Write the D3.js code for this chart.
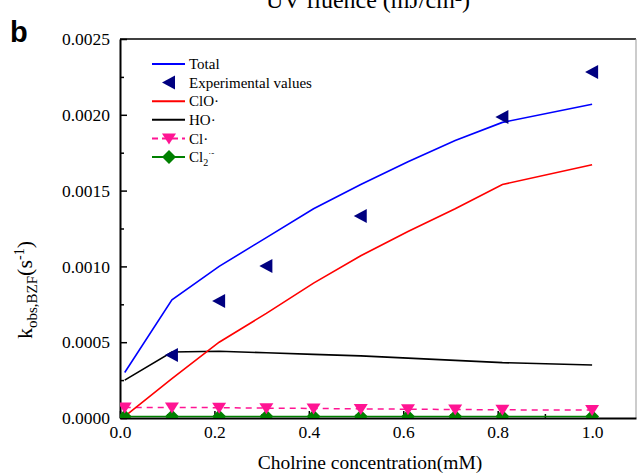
<!DOCTYPE html>
<html>
  <head>
    <script src="https://d3js.org/d3.v7.min.js" charset="utf-8"></script>
    <meta charset="UTF-8">
    <title>k_obs BZF vs chlorine</title>
    <style>
      body { margin: 0; background: #fff; }
      text { font-family: "Liberation Serif", "Times New Roman", serif; fill: #000; }
    </style>
  </head>
  <body>
    <svg class="chart"></svg>
    <script type="text/javascript">

      var width = 638,
          height = 473,
          padLeft = 120, padRight = 636, padTop = 39, padBottom = 418;

      var conc = [0.01, 0.11, 0.21, 0.31, 0.41, 0.51, 0.61, 0.71, 0.81, 1.0];
      var total = [0.0003, 0.00078, 0.001, 0.00119, 0.00138, 0.00154, 0.00169, 0.00183, 0.00195, 0.00207];
      var clo = [0.00001, 0.00026, 0.0005, 0.00069, 0.00089, 0.00107, 0.00123, 0.00138, 0.00154, 0.00167];
      var ho = [0.00025, 0.000435, 0.00044, 0.00043, 0.00042, 0.00041, 0.000395, 0.00038, 0.000365, 0.00035];
      var cl = [0.00007, 0.00007, 0.000068, 0.000065, 0.000063, 0.00006, 0.000058, 0.000056, 0.000054, 0.000052];
      var cl2 = [0.00001, 0.00001, 0.00001, 0.00001, 0.00001, 0.00001, 0.00001, 0.00001, 0.00001, 0.00001];
      var expX = [0.11, 0.21, 0.31, 0.51, 0.81, 1.0];
      var expY = [0.000416, 0.000772, 0.001003, 0.001333, 0.001986, 0.002282];

      var xTicks = [0, 0.2, 0.4, 0.6, 0.8, 1.0];
      var yTicks = [0, 0.0005, 0.001, 0.0015, 0.002, 0.0025];

      var x = d3.scaleLinear().domain([0, 1.093]).range([padLeft, padRight]);
      var y = d3.scaleLinear().domain([0, 0.0025]).range([padBottom, padTop]);

      var chart = d3.select(".chart")
          .attr("width", width)
          .attr("height", height);

      chart.append("clipPath").attr("id", "plot")
        .append("rect")
          .attr("x", padLeft).attr("y", padTop)
          .attr("width", padRight - padLeft).attr("height", padBottom - padTop);

      // frame top / right
      chart.append("line")
          .attr("x1", padLeft).attr("x2", padRight).attr("y1", padTop).attr("y2", padTop)
          .attr("stroke", "#000").attr("stroke-width", 1.5);
      chart.append("line")
          .attr("x1", padRight).attr("x2", padRight).attr("y1", padTop).attr("y2", padBottom)
          .attr("stroke", "#999").attr("stroke-width", 1);

      // axes
      var yAxis = chart.append("g")
          .attr("transform", "translate(" + padLeft + ",0)")
          .call(d3.axisLeft(y).tickValues(yTicks).tickSizeInner(-7).tickSizeOuter(0)
                .tickPadding(10).tickFormat(d3.format(".4f")));
      chart.append("g")
          .attr("transform", "translate(" + padLeft + ",0)")
          .call(d3.axisLeft(y).tickValues([0.00025, 0.00075, 0.00125, 0.00175, 0.00225])
                .tickSizeInner(-4).tickSizeOuter(0).tickFormat(""))
          .select(".domain").remove();

      var xAxis = chart.append("g")
          .attr("transform", "translate(0," + padBottom + ")")
          .call(d3.axisBottom(x).tickValues(xTicks).tickSizeInner(-7).tickSizeOuter(0)
                .tickPadding(8).tickFormat(d3.format(".1f")));
      chart.append("g")
          .attr("transform", "translate(0," + padBottom + ")")
          .call(d3.axisBottom(x).tickValues([0.1, 0.3, 0.5, 0.7, 0.9])
                .tickSizeInner(-4).tickSizeOuter(0).tickFormat(""))
          .select(".domain").remove();

      chart.selectAll(".domain").attr("stroke-width", 2);
      chart.selectAll(".tick line").attr("stroke-width", 1.5);
      yAxis.selectAll("text").style("font-size", "17.5px").style("font-family", "Liberation Serif");
      xAxis.selectAll("text").style("font-size", "17.5px").style("font-family", "Liberation Serif");

      var plot = chart.append("g").attr("clip-path", "url(#plot)");

      function pts(ys) { return conc.map(function(c, i) { return [c, ys[i]]; }); }
      var line = d3.line().x(function(d) { return x(d[0]); }).y(function(d) { return y(d[1]); });

      plot.append("path").datum(pts(cl2)).attr("d", line)
          .attr("fill", "none").attr("stroke", "#008000").attr("stroke-width", 1.5);
      plot.append("path").datum(pts(cl)).attr("d", line)
          .attr("fill", "none").attr("stroke", "#ff1493").attr("stroke-width", 1.5)
          .attr("stroke-dasharray", "6,5");
      plot.append("path").datum(pts(ho)).attr("d", line)
          .attr("fill", "none").attr("stroke", "#000").attr("stroke-width", 1.6);
      plot.append("path").datum(pts(clo)).attr("d", line)
          .attr("fill", "none").attr("stroke", "#ff0000").attr("stroke-width", 1.6);
      plot.append("path").datum(pts(total)).attr("d", line)
          .attr("fill", "none").attr("stroke", "#0000ff").attr("stroke-width", 1.6);

      var triDown = "M-7,-5L7,-5L0,6Z",
          triLeft = "M-7,0L6,-7L6,7Z",
          diamond = "M0,-7L7,0L0,7L-7,0Z";

      plot.selectAll(".cl2").data(pts(cl2)).enter().append("path")
          .attr("d", diamond).attr("fill", "#008000")
          .attr("transform", function(d) { return "translate(" + x(d[0]) + "," + y(d[1]) + ")"; });
      plot.selectAll(".cl").data(pts(cl)).enter().append("path")
          .attr("d", triDown).attr("fill", "#ff1493")
          .attr("transform", function(d) { return "translate(" + x(d[0]) + "," + y(d[1]) + ")"; });
      plot.selectAll(".exp").data(expX.map(function(c, i) { return [c, expY[i]]; })).enter().append("path")
          .attr("d", triLeft).attr("fill", "#000080")
          .attr("transform", function(d) { return "translate(" + x(d[0]) + "," + y(d[1]) + ")"; });

      // legend
      var legend = [
        {name: "Total", color: "#0000ff", kind: "line"},
        {name: "Experimental values", color: "#000080", kind: "exp"},
        {name: "ClO·", color: "#ff0000", kind: "line"},
        {name: "HO·", color: "#000", kind: "line"},
        {name: "Cl·", color: "#ff1493", kind: "cl"},
        {name: "Cl2", color: "#008000", kind: "cl2"}
      ];
      var lg = chart.append("g").selectAll("g").data(legend).enter().append("g")
          .attr("transform", function(d, i) { return "translate(152," + (64 + i * 18.6) + ")"; });
      lg.filter(function(d) { return d.kind != "exp"; }).append("line")
          .attr("x1", 0).attr("x2", 33)
          .attr("stroke", function(d) { return d.color; }).attr("stroke-width", 2)
          .attr("stroke-dasharray", function(d) { return d.kind == "cl" ? "6,4" : null; });
      lg.filter(function(d) { return d.kind == "exp"; }).append("path")
          .attr("d", triLeft).attr("fill", "#000080").attr("transform", "translate(17,0)");
      lg.filter(function(d) { return d.kind == "cl"; }).append("path")
          .attr("d", triDown).attr("fill", "#ff1493").attr("transform", "translate(17,0)");
      lg.filter(function(d) { return d.kind == "cl2"; }).append("path")
          .attr("d", diamond).attr("fill", "#008000").attr("transform", "translate(17,0)");
      var lt = lg.append("text")
          .attr("x", 37)
          .attr("dy", "0.35em")
          .style("font-size", "15px");
      lt.filter(function(d) { return d.kind != "cl2"; }).text(function(d) { return d.name; });
      var c2 = lt.filter(function(d) { return d.kind == "cl2"; });
      c2.append("tspan").text("Cl");
      c2.append("tspan").attr("dy", 4).style("font-size", "10px").text("2");
      c2.append("tspan").attr("dy", -10).style("font-size", "9px").text("·-");

      // axis titles
      chart.append("text")
          .attr("x", 370).attr("y", 469)
          .attr("text-anchor", "middle")
          .style("font-size", "19.5px")
          .text("Cholrine concentration(mM)");

      var yt = chart.append("text")
          .attr("transform", "translate(32,290) rotate(-90)")
          .attr("text-anchor", "middle")
          .style("font-size", "22px");
      yt.append("tspan").text("k");
      yt.append("tspan").attr("dy", 5).style("font-size", "15px").text("obs,BZF");
      yt.append("tspan").attr("dy", -5).text("(s");
      yt.append("tspan").attr("dy", -8).style("font-size", "14px").text("-1");
      yt.append("tspan").attr("dy", 8).text(")");

      // clipped title from panel above
      chart.append("text")
          .attr("x", 368).attr("y", 8)
          .attr("text-anchor", "middle")
          .style("font-size", "24px")
          .text("UV fluence (mJ/cm²)");

      chart.append("text")
          .attr("x", 10).attr("y", 42)
          .style("font-family", "Liberation Sans, Arial, sans-serif")
          .style("font-weight", "bold")
          .style("font-size", "29px")
          .text("b");

    </script>
  </body>
</html>
